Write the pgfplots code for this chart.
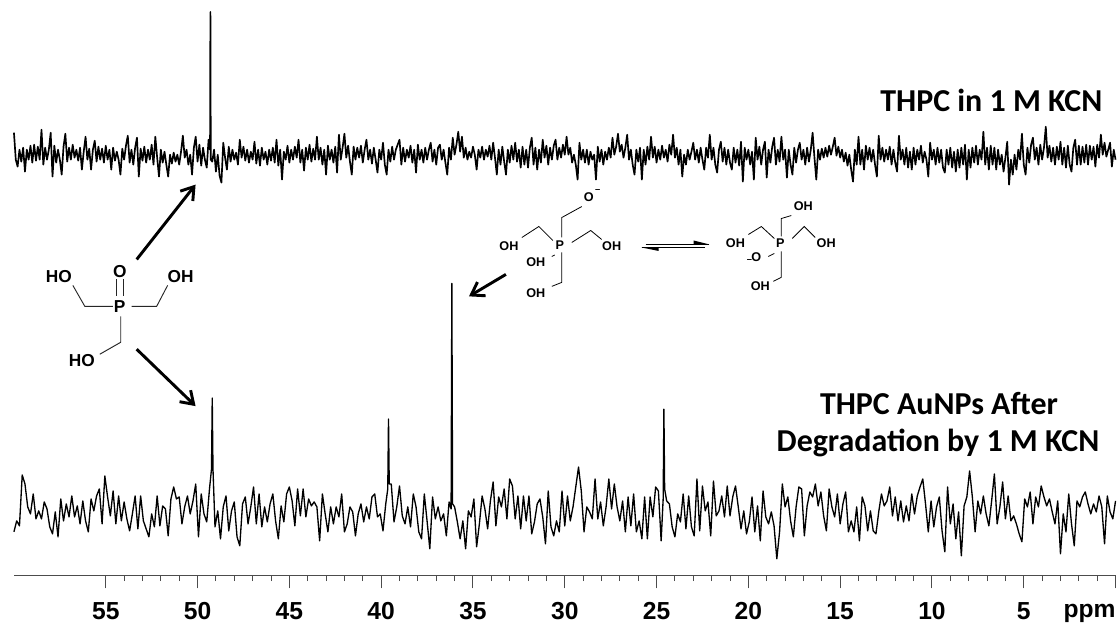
\documentclass[border=0pt]{standalone}
\usepackage{fontspec}
\setmainfont{Liberation Sans}
\newfontfamily\titlefont[Ligatures=Common]{Carlito}
\usepackage{pgfplots}
\pgfplotsset{compat=1.18}
\usetikzlibrary{arrows.meta}
\begin{document}
\begin{tikzpicture}
\begin{axis}[
  scale only axis, width=828pt, height=432.75pt,
  x dir=reverse, y dir=reverse,
  xmin=0, xmax=60, ymin=0, ymax=577,
  axis x line=bottom, axis y line=none,
  axis line style={-,color=black!70,line width=0.8pt},
  xtick={0,5,10,15,20,25,30,35,40,45,50,55},
  xticklabels={,5,10,15,20,25,30,35,40,45,50,55},
  minor x tick num=4,
  tick align=outside,
  x tick label style={font=\fontsize{18.5}{20}\selectfont\bfseries, yshift=-7pt},
  /pgf/number format/assume math mode=true,
  major tick length=9.5pt, minor tick length=4pt,
  tick style={color=black!70,line width=0.7pt},
  clip=false,
]
\addplot[black,line width=1.25pt,line join=round] coordinates {
(60.0,133)(59.9,160)(59.8,167)(59.7,150)(59.6,162)(59.5,148)(59.4,172)(59.3,150)(59.2,160)(59.1,146)
(59.0,163)(58.9,145)(58.8,161)(58.7,147)(58.6,160)(58.5,130)(58.4,165)(58.3,148)(58.2,160)(58.1,150)
(58.0,133)(57.9,177)(57.8,146)(57.7,163)(57.6,150)(57.5,160)(57.4,175)(57.3,147)(57.2,134)(57.1,162)
(57.0,148)(56.9,160)(56.8,145)(56.7,158)(56.6,150)(56.5,161)(56.4,148)(56.3,170)(56.2,152)(56.1,137)
(56.0,160)(55.9,149)(55.8,170)(55.7,150)(55.6,141)(55.5,162)(55.4,147)(55.3,160)(55.2,149)(55.1,163)
(55.0,146)(54.9,160)(54.8,150)(54.7,170)(54.6,148)(54.5,161)(54.4,152)(54.3,160)(54.2,175)(54.1,149)
(54.0,160)(53.9,146)(53.8,136)(53.7,163)(53.6,150)(53.5,165)(53.4,148)(53.3,138)(53.2,177)(53.1,149)
(53.0,161)(52.9,147)(52.8,163)(52.7,150)(52.6,160)(52.5,145)(52.4,165)(52.3,137)(52.2,158)(52.1,177)
(52.0,150)(51.9,163)(51.8,152)(51.7,165)(51.6,177)(51.5,155)(51.4,164)(51.3,153)(51.2,162)(51.1,155)
(51.0,165)(50.9,152)(50.8,136)(50.7,158)(50.6,150)(50.5,165)(50.4,155)(50.3,175)(50.2,148)(50.1,137)
(50.0,162)(49.9,145)(49.8,166)(49.7,148)(49.6,160)(49.5,168)(49.4,140)(49.32,150)(49.3,12)(49.28,160)(49.2,162)(49.1,150)
(49.0,172)(48.9,155)(48.8,176)(48.7,183)(48.6,143)(48.5,158)(48.4,170)(48.3,147)(48.2,162)(48.1,150)
(48.0,160)(47.9,153)(47.8,165)(47.7,140)(47.6,158)(47.5,147)(47.4,161)(47.3,150)(47.2,163)(47.1,152)
(47.0,160)(46.9,142)(46.8,164)(46.7,150)(46.6,166)(46.5,148)(46.4,160)(46.3,152)(46.2,165)(46.1,150)
(46.0,161)(45.9,148)(45.8,163)(45.7,140)(45.6,166)(45.5,150)(45.4,180)(45.3,152)(45.2,160)(45.1,146)
(45.0,163)(44.9,150)(44.8,160)(44.7,147)(44.6,158)(44.5,140)(44.4,163)(44.3,150)(44.2,171)(44.1,148)
(44.0,160)(43.9,145)(43.8,162)(43.7,149)(43.6,160)(43.5,137)(43.4,160)(43.3,148)(43.2,165)(43.1,150)
(43.0,175)(42.9,146)(42.8,160)(42.7,150)(42.6,163)(42.5,147)(42.4,173)(42.3,135)(42.2,160)(42.1,148)
(42.0,134)(41.9,158)(41.8,146)(41.7,162)(41.6,175)(41.5,147)(41.4,160)(41.3,148)(41.2,158)(41.1,146)
(41.0,163)(40.9,150)(40.8,140)(40.7,160)(40.6,150)(40.5,164)(40.4,148)(40.3,160)(40.2,173)(40.1,150)
(40.0,160)(39.9,143)(39.8,165)(39.7,175)(39.6,150)(39.5,162)(39.4,147)(39.3,160)(39.2,150)(39.1,145)
(39.0,140)(38.9,165)(38.8,148)(38.7,162)(38.6,150)(38.5,158)(38.4,146)(38.3,163)(38.2,150)(38.1,173)
(38.0,145)(37.9,160)(37.8,150)(37.7,163)(37.6,148)(37.5,160)(37.4,150)(37.3,143)(37.2,162)(37.1,150)
(37.0,165)(36.9,148)(36.8,145)(36.7,160)(36.6,150)(36.5,163)(36.4,175)(36.3,148)(36.2,160)(36.1,138)
(36.0,155)(35.9,145)(35.8,132)(35.7,152)(35.6,137)(35.5,158)(35.4,148)(35.3,160)(35.2,152)(35.1,158)
(35.0,147)(34.9,155)(34.8,170)(34.7,150)(34.6,158)(34.5,147)(34.4,160)(34.3,150)(34.2,157)(34.1,146)
(34.0,160)(33.9,143)(33.8,158)(33.7,175)(33.6,150)(33.5,165)(33.4,147)(33.3,162)(33.2,175)(33.1,150)
(33.0,163)(32.9,146)(32.8,160)(32.7,143)(32.6,162)(32.5,150)(32.4,168)(32.3,147)(32.2,165)(32.1,150)
(32.0,168)(31.9,148)(31.8,138)(31.7,165)(31.6,148)(31.5,170)(31.4,150)(31.3,163)(31.2,140)(31.1,158)
(31.0,146)(30.9,165)(30.8,148)(30.7,160)(30.6,146)(30.5,140)(30.4,160)(30.3,148)(30.2,158)(30.1,145)
(30.0,155)(29.9,137)(29.8,155)(29.7,148)(29.6,163)(29.5,155)(29.4,165)(29.3,180)(29.2,143)(29.1,160)
(29.0,150)(28.9,163)(28.8,150)(28.7,165)(28.6,152)(28.5,160)(28.4,155)(28.3,180)(28.2,147)(28.1,162)
(28.0,150)(27.9,165)(27.8,152)(27.7,160)(27.6,148)(27.5,158)(27.4,138)(27.3,155)(27.2,147)(27.1,134)
(27.0,152)(26.9,145)(26.8,158)(26.7,148)(26.6,135)(26.5,160)(26.4,150)(26.3,165)(26.2,175)(26.1,150)
(26.0,162)(25.9,148)(25.8,180)(25.7,150)(25.6,165)(25.5,147)(25.4,160)(25.3,137)(25.2,158)(25.1,147)
(25.0,163)(24.9,150)(24.8,160)(24.7,146)(24.6,158)(24.5,150)(24.4,162)(24.3,145)(24.2,155)(24.1,135)
(24.0,158)(23.9,148)(23.8,165)(23.7,150)(23.6,177)(23.5,155)(23.4,165)(23.3,150)(23.2,160)(23.1,152)
(23.0,143)(22.9,160)(22.8,150)(22.7,163)(22.6,148)(22.5,160)(22.4,170)(22.3,148)(22.2,158)(22.1,135)
(22.0,160)(21.9,148)(21.8,165)(21.7,173)(21.6,150)(21.5,142)(21.4,162)(21.3,148)(21.2,165)(21.1,150)
(21.0,163)(20.9,170)(20.8,148)(20.7,163)(20.6,150)(20.5,166)(20.4,142)(20.3,182)(20.2,148)(20.1,160)
(20.0,150)(19.9,165)(19.8,152)(19.7,180)(19.6,138)(19.5,160)(19.4,147)(19.3,165)(19.2,150)(19.1,142)
(19.0,178)(18.9,150)(18.8,163)(18.7,147)(18.6,138)(18.5,165)(18.4,150)(18.3,162)(18.2,137)(18.1,160)
(18.0,150)(17.9,178)(17.8,150)(17.7,165)(17.6,175)(17.5,148)(17.4,163)(17.3,150)(17.2,143)(17.1,160)
(17.0,150)(16.9,165)(16.8,148)(16.7,162)(16.6,150)(16.5,133)(16.4,158)(16.3,180)(16.2,150)(16.1,160)
(16.0,149)(15.9,158)(15.8,148)(15.7,157)(15.6,146)(15.5,155)(15.4,147)(15.3,138)(15.2,156)(15.1,147)
(15.0,158)(14.9,150)(14.8,162)(14.7,153)(14.6,166)(14.5,155)(14.4,170)(14.3,182)(14.2,150)(14.1,165)
(14.0,137)(13.9,165)(13.8,150)(13.7,170)(13.6,146)(13.5,160)(13.4,148)(13.3,162)(13.2,150)(13.1,165)
(13.0,177)(12.9,136)(12.8,160)(12.7,148)(12.6,162)(12.5,150)(12.4,160)(12.3,147)(12.2,165)(12.1,150)
(12.0,163)(11.9,172)(11.8,136)(11.7,160)(11.6,150)(11.5,165)(11.4,148)(11.3,168)(11.2,152)(11.1,170)
(11.0,148)(10.9,165)(10.8,150)(10.7,160)(10.6,146)(10.5,163)(10.4,152)(10.3,160)(10.2,177)(10.1,143)
(10.0,160)(9.9,150)(9.8,165)(9.7,148)(9.6,163)(9.5,150)(9.4,168)(9.3,173)(9.2,150)(9.1,165)
(9.0,148)(8.9,168)(8.8,152)(8.7,172)(8.6,150)(8.5,168)(8.4,148)(8.3,165)(8.2,145)(8.1,180)
(8.0,150)(7.9,168)(7.8,148)(7.7,163)(7.6,146)(7.5,165)(7.4,150)(7.3,160)(7.2,132)(7.1,165)
(7.0,148)(6.9,170)(6.8,146)(6.7,165)(6.6,148)(6.5,170)(6.4,150)(6.3,165)(6.2,155)(6.1,172)
(6.0,158)(5.9,142)(5.8,185)(5.7,160)(5.6,175)(5.5,155)(5.4,170)(5.3,150)(5.2,160)(5.1,134)
(5.0,165)(4.9,175)(4.8,148)(4.7,163)(4.6,145)(4.5,138)(4.4,160)(4.3,148)(4.2,165)(4.1,145)
(4.0,160)(3.9,148)(3.8,127)(3.7,158)(3.6,146)(3.5,162)(3.4,148)(3.3,165)(3.2,147)(3.1,160)
(3.0,142)(2.9,165)(2.8,148)(2.7,168)(2.6,146)(2.5,165)(2.4,172)(2.3,148)(2.2,140)(2.1,165)
(2.0,146)(1.9,165)(1.8,147)(1.7,163)(1.6,145)(1.5,165)(1.4,146)(1.3,160)(1.2,147)(1.1,167)
(1.0,145)(0.9,158)(0.8,135)(0.7,155)(0.6,143)(0.5,157)(0.4,150)(0.3,143)(0.2,167)(0.1,150)(0.0,160)
};
\addplot[black,line width=1pt,line join=round] coordinates {
(60.00,533)(59.85,522)(59.70,527)(59.55,476)(59.40,485)(59.25,508)(59.10,515)(58.95,495)(58.80,520)(58.65,512)
(58.50,520)(58.35,503)(58.20,510)(58.05,528)(57.90,535)(57.75,513)(57.60,538)(57.45,500)(57.30,522)(57.15,505)
(57.00,518)(56.85,497)(56.70,518)(56.55,507)(56.40,525)(56.25,502)(56.10,522)(55.95,533)(55.80,500)(55.65,512)
(55.50,497)(55.35,490)(55.20,525)(55.05,477)(54.90,498)(54.75,517)(54.60,492)(54.45,525)(54.30,497)(54.15,522)
(54.00,503)(53.85,520)(53.70,532)(53.55,515)(53.40,497)(53.25,530)(53.10,497)(52.95,522)(52.80,530)(52.65,538)
(52.50,515)(52.35,528)(52.20,497)(52.05,527)(51.90,507)(51.75,510)(51.60,537)(51.45,500)(51.30,488)(51.15,500)
(51.00,498)(50.85,525)(50.70,508)(50.55,497)(50.40,515)(50.25,502)(50.10,485)(49.95,538)(49.80,495)(49.65,515)
(49.50,523)(49.35,490)(49.24,470)(49.20,399)(49.16,470)(49.05,528)(48.90,512)(48.75,540)(48.60,508)(48.45,497)(48.30,532)(48.15,512)
(48.00,503)(47.85,538)(47.70,547)(47.55,505)(47.40,498)(47.25,525)(47.10,508)(46.95,488)(46.80,525)(46.65,495)
(46.50,528)(46.35,508)(46.20,523)(46.05,505)(45.90,495)(45.75,522)(45.60,540)(45.45,507)(45.30,523)(45.15,495)
(45.00,488)(44.85,502)(44.70,527)(44.55,490)(44.40,517)(44.25,490)(44.10,518)(43.95,500)(43.80,507)(43.65,503)
(43.50,508)(43.35,542)(43.20,495)(43.05,515)(42.90,533)(42.75,508)(42.60,525)(42.45,508)(42.30,518)(42.15,495)
(42.00,533)(41.85,525)(41.70,508)(41.55,513)(41.40,537)(41.25,515)(41.10,505)(40.95,523)(40.80,508)(40.65,520)
(40.50,498)(40.35,495)(40.20,518)(40.05,515)(39.90,532)(39.75,505)(39.64,490)(39.60,420)(39.56,485)(39.45,485)(39.30,523)(39.15,508)
(39.00,487)(38.85,517)(38.70,525)(38.55,508)(38.40,528)(38.25,495)(38.10,508)(37.95,533)(37.80,540)(37.65,495)
(37.50,522)(37.35,550)(37.20,498)(37.05,520)(36.90,508)(36.75,522)(36.60,515)(36.45,537)(36.30,503)(36.19,510)(36.15,284)(36.11,505)
(36.00,508)(35.85,523)(35.70,540)(35.55,522)(35.40,550)(35.25,512)(35.10,518)(34.95,500)(34.80,548)(34.65,525)
(34.50,497)(34.35,510)(34.20,530)(34.05,502)(33.90,483)(33.75,527)(33.60,498)(33.45,508)(33.30,490)(33.15,520)
(33.00,480)(32.85,487)(32.70,520)(32.55,497)(32.40,530)(32.25,497)(32.10,522)(31.95,497)(31.80,535)(31.65,523)
(31.50,505)(31.35,500)(31.20,518)(31.05,545)(30.90,492)(30.75,528)(30.60,537)(30.45,522)(30.30,533)(30.15,492)
(30.00,527)(29.85,497)(29.70,522)(29.55,508)(29.40,488)(29.25,468)(29.10,492)(28.95,533)(28.80,508)(28.65,513)
(28.50,520)(28.35,480)(28.20,520)(28.05,503)(27.90,527)(27.75,508)(27.60,480)(27.45,510)(27.30,485)(27.15,508)
(27.00,522)(26.85,502)(26.70,533)(26.55,498)(26.40,527)(26.25,495)(26.10,533)(25.95,522)(25.80,540)(25.65,498)
(25.50,540)(25.35,498)(25.20,518)(25.05,488)(24.90,492)(24.75,542)(24.64,500)(24.60,410)(24.56,490)(24.45,502)(24.30,505)(24.15,528)
(24.00,538)(23.85,515)(23.70,523)(23.55,495)(23.40,530)(23.25,497)(23.10,528)(22.95,537)(22.80,480)(22.65,532)
(22.50,487)(22.35,512)(22.20,503)(22.05,537)(21.90,482)(21.75,517)(21.60,512)(21.45,497)(21.30,518)(21.15,487)
(21.00,517)(20.85,498)(20.70,487)(20.55,508)(20.40,530)(20.25,512)(20.10,535)(19.95,523)(19.80,498)(19.65,533)
(19.50,507)(19.35,542)(19.20,492)(19.05,518)(18.90,525)(18.75,513)(18.60,527)(18.45,560)(18.30,533)(18.15,485)
(18.00,508)(17.85,498)(17.70,522)(17.55,538)(17.40,508)(17.25,488)(17.10,490)(16.95,537)(16.80,507)(16.65,493)
(16.50,498)(16.35,485)(16.20,507)(16.05,493)(15.90,517)(15.75,532)(15.60,490)(15.45,508)(15.30,518)(15.15,495)
(15.00,525)(14.85,505)(14.70,493)(14.55,533)(14.40,522)(14.25,533)(14.10,508)(13.95,542)(13.80,498)(13.65,507)
(13.50,532)(13.35,512)(13.20,532)(13.05,535)(12.90,513)(12.75,495)(12.60,507)(12.45,502)(12.30,488)(12.15,517)
(12.00,498)(11.85,522)(11.70,502)(11.55,523)(11.40,507)(11.25,522)(11.10,495)(10.95,515)(10.80,497)(10.65,488)
(10.50,480)(10.35,505)(10.20,533)(10.05,502)(9.90,528)(9.75,508)(9.60,498)(9.45,532)(9.30,553)(9.15,488)
(9.00,525)(8.85,505)(8.70,540)(8.55,513)(8.40,557)(8.25,507)(8.10,498)(7.95,472)(7.80,498)(7.65,533)
(7.50,502)(7.35,515)(7.20,497)(7.05,515)(6.90,527)(6.75,502)(6.60,475)(6.45,525)(6.30,508)(6.15,483)
(6.00,520)(5.85,497)(5.70,522)(5.55,517)(5.40,525)(5.25,535)(5.10,543)(4.95,500)(4.80,508)(4.65,493)
(4.50,525)(4.35,498)(4.20,508)(4.05,487)(3.90,498)(3.75,507)(3.60,500)(3.45,513)(3.30,525)(3.15,502)
(3.00,555)(2.85,515)(2.70,533)(2.55,495)(2.40,525)(2.25,547)(2.10,502)(1.95,508)(1.80,498)(1.65,493)
(1.50,505)(1.35,515)(1.20,505)(1.05,513)(0.90,497)(0.75,508)(0.60,545)(0.45,497)(0.30,513)(0.15,520)(0.00,502)
};
\end{axis}
\begin{scope}[x=0.75pt,y=-0.75pt,shift={(-10.5pt,432.75pt)}]
\path[use as bounding box] (0,0) rectangle (1120,624);
\node[font=\fontsize{18.5}{20}\selectfont\bfseries,anchor=base] at (1092,619) {ppm};
% titles
\node[font=\titlefont\fontsize{24}{28}\selectfont\bfseries,anchor=base east,inner sep=0pt] at (1105,112) {THPC in 1 M KCN};
\node[font=\titlefont\fontsize{24}{28}\selectfont\bfseries,anchor=base] at (941,415) {THPC AuNPs After};
\node[font=\titlefont\fontsize{24}{28}\selectfont\bfseries,anchor=base] at (940,452) {Degradation by 1 M KCN};
% left molecule
\begin{scope}[every node/.style={font=\fontsize{13}{15}\selectfont\bfseries,inner sep=0pt}]
\node at (120,272) {O};
\node at (120,307) {P};
\node at (59,277) {HO};
\node at (181,277) {OH};
\node at (82,361) {HO};
\draw[line width=0.9pt,black!85] (117,280)--(117,297) (123.5,280)--(123.5,297);
\draw[line width=0.7pt,black!85] (73,286)--(85,307)--(113,307) (132,307)--(157,307)--(168,286) (121,317)--(121,343)--(100,355);
\end{scope}
% arrows
\begin{scope}[line width=2.2pt,-{Straight Barb[length=9pt,width=12pt]}]
\draw (137,260)--(196,185);
\draw (137,350)--(196,407);
\draw (507,275)--(470,297);
\end{scope}
% centre molecule
\begin{scope}[every node/.style={font=\fontsize{9.5}{11}\selectfont\bfseries,inner sep=0pt}]
\node at (590,198) {O};
\node at (599,191) {\fontsize{7}{8}\selectfont\textendash};
\node at (510,247) {OH};
\node at (561,246) {P};
\node at (613,247) {OH};
\node at (537,263) {OH};
\node at (537,294) {OH};
\draw[line width=0.6pt] (523,238)--(540,227)--(554,241) (563,238)--(563,218)--(583,207) (573,243)--(592,231)--(603,240) (563,253)--(563,283)--(553,287) (553,257)--(556,255.5);
% equilibrium
\draw[line width=0.5pt] (647,245)--(711,245) (643,248)--(707,248);
\fill (695,241)--(711,245)--(695,245)--cycle (643,248)--(660,251.5)--(660,248)--cycle;
% right molecule
\node at (805,207) {OH};
\node at (737,244) {OH};
\node at (782,244) {P};
\node at (828,244) {OH};
\node at (758,258) {O};
\node at (751,262) {\fontsize{7}{8}\selectfont\textendash};
\node at (762,287) {OH};
\draw[line width=0.6pt] (750,235)--(763,227)--(776,239) (783,237)--(783,219)--(793,216) (794,239)--(806,227)--(817,238) (783,252)--(783,278)--(775,282) (770,257)--(776,254);
\end{scope}
\end{scope}
\end{tikzpicture}
\end{document}
